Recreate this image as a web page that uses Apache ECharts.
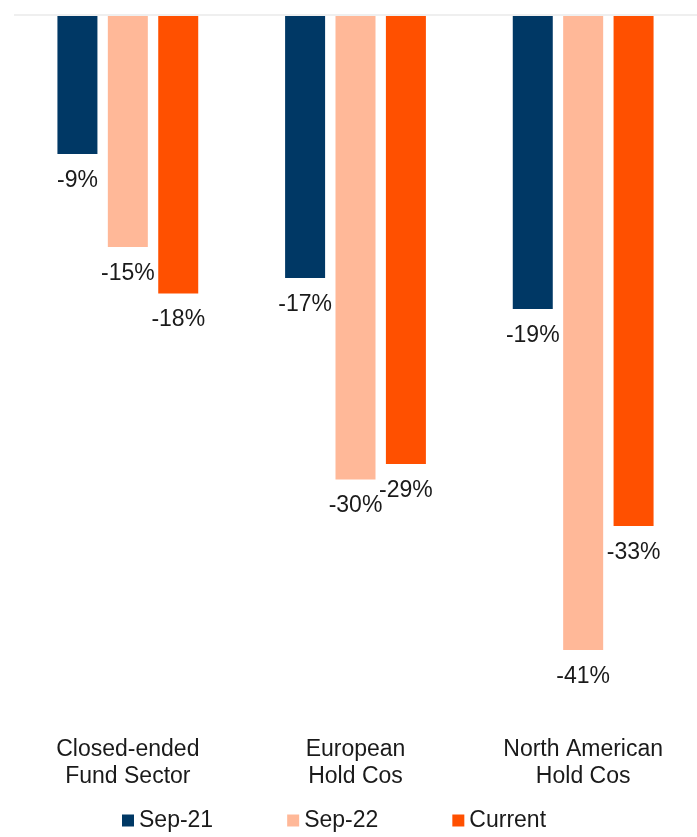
<!DOCTYPE html>
<html>
<head>
<meta charset="utf-8">
<style>
  html, body { margin: 0; padding: 0; background: #ffffff; }
  #chart { width: 697px; height: 837px; }
</style>
<script src="https://cdn.jsdelivr.net/npm/echarts@6/dist/echarts.min.js"></script>
</head>
<body>
<div id="chart"></div>
<script>
// Discount to NAV by peer group, in percent
const categories = ['Closed-ended\nFund Sector', 'European\nHold Cos', 'North American\nHold Cos'];
const seriesNames = ['Sep-21', 'Sep-22', 'Current'];
const sep21 = [-9, -17, -19];
const sep22 = [-15, -30, -41];
const current = [-18, -29, -33];
const colors = ['#003865', '#FFB898', '#FF5000'];

const FONT = '"Liberation Sans", Arial, sans-serif';

const chart = echarts.init(document.getElementById('chart'), null, { renderer: 'canvas' });

function barSeries(name, data, color, withZeroLine) {
  const s = {
    name: name,
    type: 'bar',
    data: data,
    barWidth: 40,
    barGap: '26%',
    itemStyle: { color: color },
    label: {
      show: true,
      position: 'bottom',
      distance: 15,
      formatter: p => p.value + '%',
      fontFamily: FONT,
      fontSize: 23,
      color: '#1a1a1a'
    },
    animation: false
  };
  if (withZeroLine) {
    s.markLine = {
      silent: true,
      symbol: 'none',
      label: { show: false },
      lineStyle: { color: '#efefef', width: 2, type: 'solid' },
      data: [{ yAxis: 0 }]
    };
  }
  return s;
}

chart.setOption({
  animation: false,
  backgroundColor: '#ffffff',
  grid: { left: 14, right: 0, top: 14.5, bottom: 109.5, containLabel: false },
  legend: {
    data: seriesNames,
    left: 122,
    top: 809,
    padding: 0,
    itemWidth: 12,
    itemHeight: 12,
    itemGap: 74,
    icon: 'rect',
    textStyle: { fontFamily: FONT, fontSize: 23, color: '#1a1a1a' }
  },
  xAxis: {
    type: 'category',
    data: categories,
    position: 'bottom',
    axisLine: { show: false, onZero: false },
    axisTick: { show: false },
    splitLine: { show: false },
    axisLabel: {
      margin: 9,
      fontFamily: FONT,
      fontSize: 23,
      lineHeight: 27,
      color: '#1a1a1a',
      interval: 0
    }
  },
  yAxis: {
    type: 'value',
    min: -46,
    max: 0,
    show: false,
    splitLine: { show: false }
  },
  series: [
    barSeries(seriesNames[0], sep21, colors[0], true),
    barSeries(seriesNames[1], sep22, colors[1], false),
    barSeries(seriesNames[2], current, colors[2], false)
  ]
});
</script>
</body>
</html>
